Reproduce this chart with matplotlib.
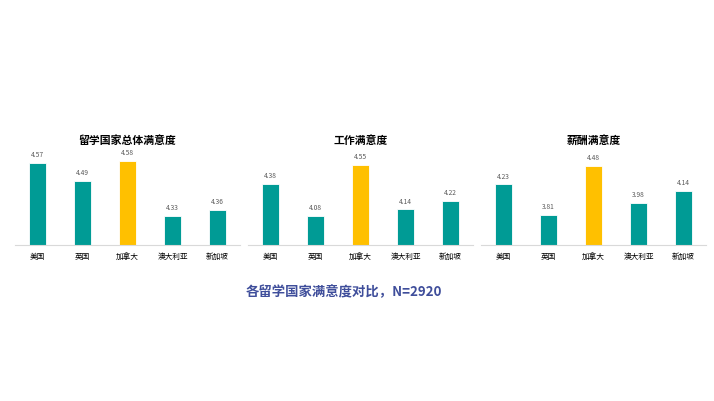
#!/usr/bin/env python3

import matplotlib
matplotlib.use('Agg')
import matplotlib.pyplot as plt

plt.rcParams['font.family'] = ['Noto Sans CJK SC', 'DejaVu Sans']

# data
countries = ['美国', '英国', '加拿大', '澳大利亚', '新加坡']
titles = ['留学国家总体满意度', '工作满意度', '薪酬满意度']
overall = [4.57, 4.49, 4.58, 4.33, 4.36]
work = [4.38, 4.08, 4.55, 4.14, 4.22]
salary = [4.23, 3.81, 4.48, 3.98, 4.14]
ylims = [(4.2, 4.634), (3.81, 4.70), (3.40, 4.715)]

teal = '#009B95'
gold = '#FFC000'
colors = [gold if c == '加拿大' else teal for c in countries]

fig = plt.figure(figsize=(7.14, 4.02), dpi=100)

lefts = [15 / 714, 248 / 714, 481 / 714]
for left, title, vals, lim in zip(lefts, titles, [overall, work, salary], ylims):
    ax = fig.add_axes([left, 1 - 246 / 402, 225 / 714, 96 / 402])
    xs = range(len(countries))
    ax.bar(xs, vals, width=0.38, color=colors, edgecolor='white', linewidth=0.6)
    for x, v in zip(xs, vals):
        ax.annotate(f'{v:.2f}', (x, v), xytext=(0, 3.5), textcoords='offset points',
                    ha='center', va='bottom', fontsize=4.8, color='#595959')
    ax.set_ylim(*lim)
    ax.set_xlim(-0.5, len(countries) - 0.5)
    ax.set_xticks(list(xs))
    ax.set_xticklabels(countries, fontsize=5.5)
    ax.tick_params(axis='x', length=0, pad=5)
    ax.set_yticks([])
    for s in ['top', 'right', 'left']:
        ax.spines[s].set_visible(False)
    ax.spines['bottom'].set_color('#D9D9D9')
    ax.spines['bottom'].set_linewidth(0.8)
    ax.set_title(title, fontsize=7.8, fontweight='bold', pad=4.5)

fig.text(344 / 714, 1 - 292 / 402, '各留学国家满意度对比，N=2920', ha='center', va='center',
         fontsize=9.6, fontweight='bold', color='#3F4E9B')

fig.savefig('out.png', dpi=100)
